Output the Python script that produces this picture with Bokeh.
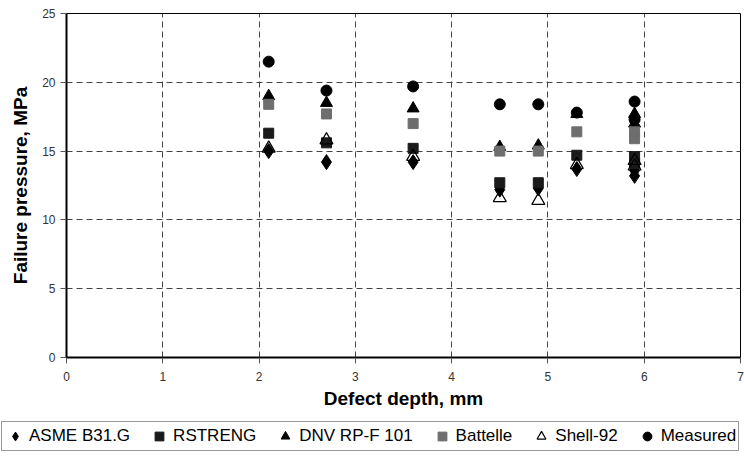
from bokeh.plotting import figure
from bokeh.models import Legend, LegendItem, Range1d, FixedTicker
from bokeh.layouts import column
from bokeh.embed import file_html
from bokeh.resources import INLINE

depth = [2.1, 2.7, 3.6, 4.5, 4.9, 5.3, 5.9, 5.9]
asme = [15.0, 14.2, 14.2, 12.2, 12.3, 13.7, 13.6, 13.2]
rstreng = [16.3, 15.6, 15.2, 12.7, 12.7, 14.7, 14.6, 14.1]
dnv = [19.0, 18.5, 18.1, 15.3, 15.4, 17.7, 17.7, 17.0]
battelle = [18.4, 17.7, 17.0, 15.0, 15.0, 16.4, 16.4, 15.9]
shell = [15.2, 15.8, 14.6, 11.6, 11.4, 14.0, 14.3, 13.9]
measured = [21.5, 19.4, 19.7, 18.4, 18.4, 17.8, 18.6, 17.3]

series_names = ["ASME B31.G", "RSTRENG", "DNV RP-F 101", "Battelle", "Shell-92", "Measured"]
x_ticks = [0, 1, 2, 3, 4, 5, 6, 7]
y_ticks = [0, 5, 10, 15, 20, 25]

FONT = "Liberation Sans"

p = figure(frame_width=674, frame_height=344, output_backend="svg", toolbar_location=None,
           x_range=Range1d(0, 7), y_range=Range1d(0, 25),
           min_border_left=66, min_border_right=4, min_border_top=13, min_border_bottom=57)

p.outline_line_color = "black"
p.outline_line_width = 1

for ax in (p.xaxis[0], p.yaxis[0]):
    ax.axis_line_width = 2
    ax.axis_line_color = "black"
    ax.major_tick_line_color = "#555555"
    ax.major_tick_out = 6
    ax.major_tick_in = 0
    ax.minor_tick_line_color = None
    ax.major_label_text_font = FONT
    ax.major_label_text_font_size = "12px"
    ax.major_label_text_color = "#333333"
    ax.axis_label_text_font = FONT
    ax.axis_label_text_font_size = "19px"
    ax.axis_label_text_font_style = "bold"
    ax.axis_label_text_color = "black"

p.xaxis.ticker = FixedTicker(ticks=x_ticks)
p.yaxis.ticker = FixedTicker(ticks=y_ticks)
p.xaxis.axis_label = "Defect depth, mm"
p.yaxis.axis_label = "Failure pressure, MPa"
p.xaxis.major_label_standoff = 8
p.xaxis.axis_label_standoff = 4
p.yaxis.axis_label_standoff = 8

for g in (p.xgrid[0], p.ygrid[0]):
    g.grid_line_color = "#444444"
    g.grid_line_dash = "6 4"
    g.grid_line_width = 1

styles = [
    dict(marker="diamond", size=15, color="black"),
    dict(marker="square", size=10, color="#1a1a1a"),
    dict(marker="triangle", size=12, color="black"),
    dict(marker="square", size=10, color="#6e6e6e"),
    dict(marker="triangle", size=13, line_color="black", fill_alpha=0, line_width=1.2),
    dict(marker="circle", size=11, color="black"),
]
values = [asme, rstreng, dnv, battelle, shell, measured]

for vals, st in zip(values, styles):
    p.scatter(depth, vals, **st)

# legend strip: a second figure whose ranges exclude the data, so only the legend shows
lg = figure(frame_width=744, frame_height=42, output_backend="svg", toolbar_location=None,
            x_axis_type=None, y_axis_type=None,
            x_range=Range1d(100, 101), y_range=Range1d(100, 101),
            min_border_left=0, min_border_right=0, min_border_top=0, min_border_bottom=0)
lg.grid.visible = False
lg.outline_line_color = None

items = []
for name, vals, st in zip(series_names, values, styles):
    r = lg.scatter(depth, vals, **st)
    items.append(LegendItem(label=name, renderers=[r]))

legend = Legend(items=items, orientation="horizontal", location=(1, 5))
legend.label_text_font = FONT
legend.label_text_font_size = "17px"
legend.label_text_color = "black"
legend.glyph_width = 22
legend.glyph_height = 24
legend.label_standoff = 3
legend.spacing = 18
legend.padding = 2
legend.margin = 0
legend.label_height = 16
legend.border_line_color = "#333333"
legend.border_line_width = 1.5
legend.background_fill_alpha = 0
lg.add_layout(legend, "center")

layout = column(p, lg, spacing=0)
open("out.html", "w").write(file_html(layout, INLINE))
